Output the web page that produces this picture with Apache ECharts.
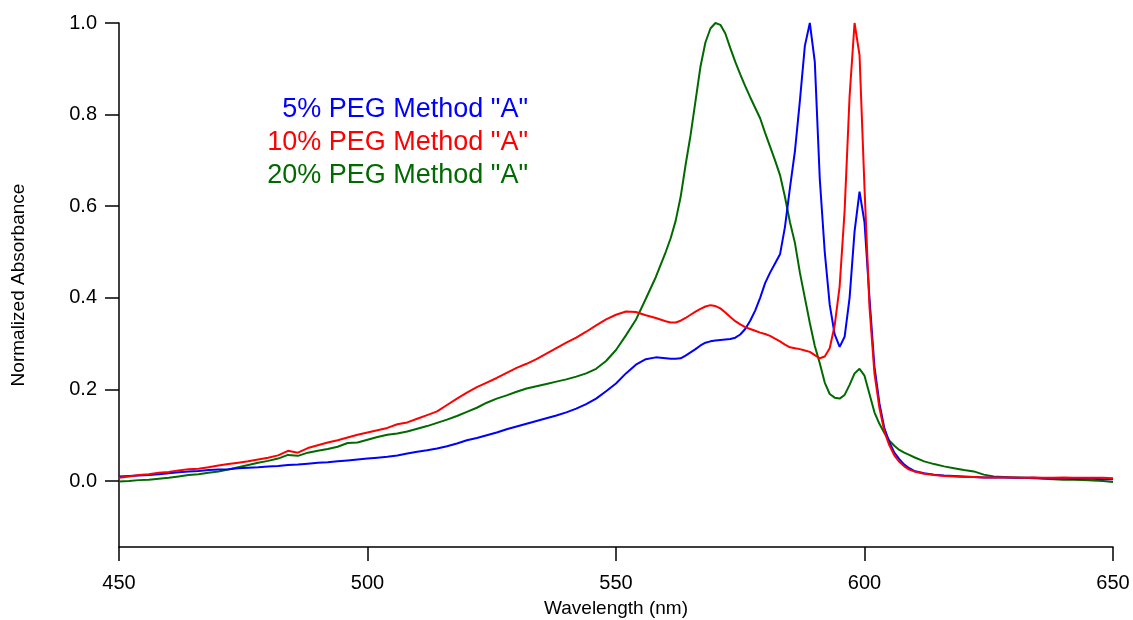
<!DOCTYPE html>
<html>
<head>
<meta charset="utf-8">
<script src="https://cdn.jsdelivr.net/npm/echarts@6/dist/echarts.min.js"></script>
<style>
  html, body { margin: 0; padding: 0; background: #fff; }
  #chart { width: 1133px; height: 620px; }
</style>
</head>
<body>
<div id="chart"></div>
<script>
// wavelength (nm): 2 nm steps, 1 nm around the peaks
const wavelengths = [
  450, 452, 454, 456, 458, 460, 462, 464, 466, 468, 470, 472, 474, 476, 478, 480, 482, 484, 486, 488,
  490, 492, 494, 496, 498, 500, 502, 504, 506, 508, 510, 512, 514, 516, 518, 520, 522, 524, 526, 528,
  530, 532, 534, 536, 538, 540, 542, 544, 546, 548, 550, 552, 554, 556, 558, 560,
  561, 562, 563, 564, 565, 566, 567, 568, 569, 570, 571, 572, 573, 574, 575, 576, 577, 578, 579, 580,
  581, 582, 583, 584, 585, 586, 587, 588, 589, 590, 591, 592, 593, 594, 595, 596, 597, 598, 599, 600,
  601, 602, 603, 604, 605, 606, 607, 608, 609, 610,
  612, 614, 616, 618, 620, 622, 624, 626, 628, 630, 632, 634, 636, 638, 640, 642, 644, 646, 648, 650
]

const peg5 = [
  0.010, 0.011, 0.012, 0.013, 0.015, 0.017, 0.019, 0.021, 0.022, 0.024, 0.025, 0.026, 0.028, 0.029, 0.030, 0.032, 0.033, 0.035, 0.036, 0.038,
  0.040, 0.041, 0.043, 0.045, 0.047, 0.049, 0.051, 0.053, 0.056, 0.060, 0.064, 0.067, 0.071, 0.076, 0.082, 0.089, 0.094, 0.100, 0.106, 0.113,
  0.119, 0.125, 0.131, 0.137, 0.143, 0.150, 0.158, 0.168, 0.180, 0.196, 0.213, 0.235, 0.254, 0.266, 0.270, 0.268,
  0.267, 0.267, 0.268, 0.274, 0.281, 0.288, 0.296, 0.302, 0.305, 0.307, 0.308, 0.309, 0.310, 0.313, 0.320, 0.332, 0.350, 0.372, 0.400, 0.432,
  0.455, 0.475, 0.495, 0.555, 0.640, 0.720, 0.830, 0.950, 1.000, 0.915, 0.660, 0.500, 0.385, 0.320, 0.293, 0.315, 0.400, 0.545, 0.632, 0.565,
  0.400, 0.250, 0.170, 0.115, 0.085, 0.062, 0.048, 0.036, 0.028, 0.022,
  0.017, 0.014, 0.012, 0.011, 0.010, 0.009, 0.008, 0.008, 0.008, 0.007, 0.007, 0.007, 0.006, 0.006, 0.006, 0.005, 0.005, 0.005, 0.004, 0.004
]

const peg10 = [
  0.007, 0.010, 0.013, 0.015, 0.018, 0.020, 0.023, 0.026, 0.027, 0.030, 0.034, 0.037, 0.040, 0.043, 0.047, 0.051, 0.056, 0.066, 0.062, 0.072,
  0.078, 0.084, 0.089, 0.095, 0.101, 0.106, 0.111, 0.116, 0.124, 0.128, 0.136, 0.144, 0.152, 0.166, 0.180, 0.193, 0.205, 0.215, 0.225, 0.236,
  0.247, 0.256, 0.266, 0.278, 0.290, 0.302, 0.313, 0.326, 0.340, 0.353, 0.363, 0.370, 0.369, 0.362, 0.356, 0.349,
  0.346, 0.346, 0.350, 0.356, 0.363, 0.370, 0.376, 0.381, 0.384, 0.382, 0.377, 0.368, 0.358, 0.349, 0.342, 0.336, 0.332, 0.328, 0.324, 0.321,
  0.317, 0.311, 0.305, 0.298, 0.292, 0.290, 0.288, 0.285, 0.282, 0.275, 0.268, 0.272, 0.290, 0.340, 0.425, 0.590, 0.840, 1.000, 0.930, 0.640,
  0.380, 0.235, 0.160, 0.108, 0.078, 0.056, 0.042, 0.032, 0.025, 0.021,
  0.016, 0.013, 0.011, 0.010, 0.009, 0.009, 0.008, 0.008, 0.008, 0.008, 0.007, 0.008, 0.007, 0.007, 0.008, 0.007, 0.007, 0.007, 0.007, 0.006
]

const peg20 = [
  -0.001, 0.000, 0.002, 0.003, 0.005, 0.007, 0.010, 0.013, 0.015, 0.018, 0.021, 0.025, 0.030, 0.035, 0.040, 0.044, 0.049, 0.057, 0.055, 0.062,
  0.066, 0.070, 0.075, 0.083, 0.084, 0.090, 0.096, 0.101, 0.104, 0.108, 0.114, 0.120, 0.127, 0.134, 0.142, 0.151, 0.160, 0.171, 0.180, 0.187,
  0.195, 0.202, 0.207, 0.212, 0.217, 0.222, 0.228, 0.235, 0.245, 0.262, 0.286, 0.318, 0.352, 0.398, 0.445, 0.500,
  0.530, 0.568, 0.620, 0.690, 0.755, 0.830, 0.905, 0.958, 0.988, 1.000, 0.996, 0.977, 0.945, 0.915, 0.888, 0.862, 0.838, 0.815, 0.792, 0.760,
  0.730, 0.700, 0.668, 0.620, 0.565, 0.520, 0.455, 0.400, 0.345, 0.295, 0.257, 0.215, 0.190, 0.182, 0.180, 0.188, 0.210, 0.235, 0.245, 0.230,
  0.190, 0.150, 0.125, 0.105, 0.088, 0.077, 0.068, 0.062, 0.057, 0.052,
  0.043, 0.037, 0.032, 0.028, 0.024, 0.021, 0.014, 0.010, 0.009, 0.008, 0.007, 0.006, 0.005, 0.004, 0.003, 0.003, 0.002, 0.001, 0.000, -0.002
]

const yTicks = [0, 0.2, 0.4, 0.6, 0.8, 1.0]
const seriesNames = ['5% PEG Method "A"', '10% PEG Method "A"', '20% PEG Method "A"']
const seriesColors = ['#0000ff', '#ff0000', '#006a00']

const font = 'Liberation Sans, Arial, sans-serif'

function pairs(ys) {
  return wavelengths.map((w, i) => [w, ys[i]])
}

const chart = echarts.init(document.getElementById('chart'))
chart.setOption({
  animation: false,
  backgroundColor: '#fff',
  grid: { left: 119, right: 20, top: 23, bottom: 73, containLabel: false, outerBoundsMode: 'none' },
  xAxis: {
    type: 'value',
    min: 450,
    max: 650,
    interval: 50,
    name: 'Wavelength (nm)',
    nameLocation: 'middle',
    nameGap: 52,
    nameTextStyle: { fontFamily: font, fontSize: 19, color: '#000' },
    axisLine: { onZero: false, lineStyle: { color: '#000', width: 1.5 } },
    axisTick: { inside: false, length: 14, lineStyle: { color: '#000', width: 1.5 } },
    axisLabel: { margin: 26, fontFamily: font, fontSize: 20, color: '#000' },
    splitLine: { show: false }
  },
  yAxis: {
    type: 'value',
    min: -0.144,
    max: 1.0,
    name: 'Normalized Absorbance',
    nameLocation: 'middle',
    nameGap: 91,
    nameTextStyle: { fontFamily: font, fontSize: 19, color: '#000' },
    axisLine: { show: true, onZero: false, lineStyle: { color: '#000', width: 1.5 } },
    axisTick: { show: true, length: 14, customValues: yTicks, lineStyle: { color: '#000', width: 1.5 } },
    axisLabel: {
      margin: 22,
      fontFamily: font,
      fontSize: 20,
      color: '#000',
      customValues: yTicks,
      formatter: v => v.toFixed(1)
    },
    splitLine: { show: false }
  },
  graphic: seriesNames.map((name, i) => ({
    type: 'text',
    right: 1133 - 528,
    top: 96 + i * 33,
    style: { text: name, fill: seriesColors[i], font: '27px ' + font }
  })),
  series: [peg5, peg10, peg20].map((ys, i) => ({
    name: seriesNames[i],
    type: 'line',
    data: pairs(ys),
    showSymbol: false,
    lineStyle: { color: seriesColors[i], width: 2 },
    z: i === 1 ? 4 : (i === 0 ? 3 : 2)
  }))
})
</script>
</body>
</html>
